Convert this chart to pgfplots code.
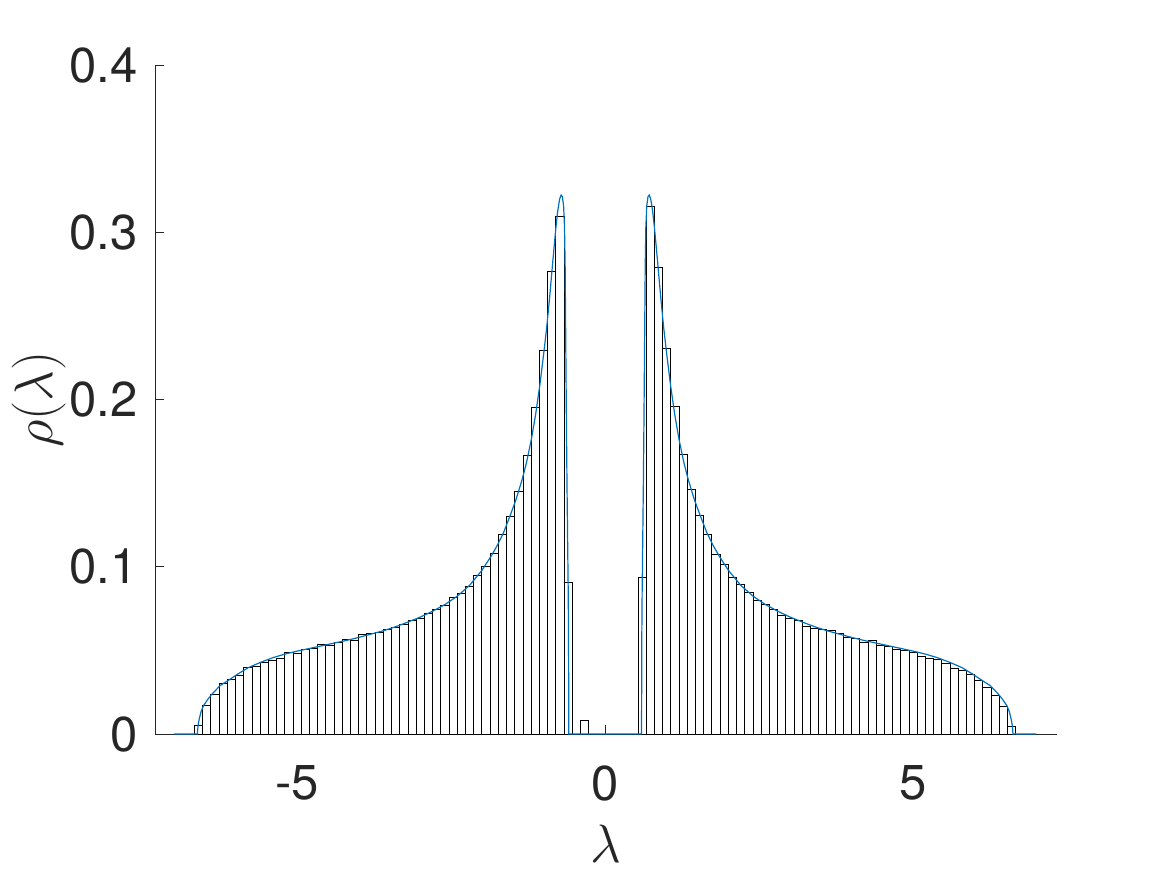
\RequirePackage{fix-cm}
\documentclass[border=0pt]{standalone}
\usepackage{fontspec}
\setmainfont{TeX Gyre Heros}
\usepackage{pgfplots}
\pgfplotsset{compat=1.18}
\definecolor{mblue}{rgb}{0,0.447,0.741}
\definecolor{axgray}{rgb}{0.15,0.15,0.15}
\begin{document}
\begin{tikzpicture}
\useasboundingbox (-77.75pt,-70.5pt) rectangle (505.75pt,367pt);
\begin{axis}[
  at={(0,0)}, anchor=south west,
  scale only axis, width=450.6pt, height=334.25pt,
  xmin=-7.3, xmax=7.33, ymin=0, ymax=0.4,
  axis lines*=left,
  axis line style={axgray, line width=0.5pt},
  tick align=inside, major tick length=4.5pt,
  tick style={axgray, line width=0.5pt},
  xtick={-5,0,5}, xticklabels={{-5},{0},{5}},
  ytick={0,0.1,0.2,0.3,0.4}, yticklabels={{0},{0.1},{0.2},{0.3},{0.4}},
  ticklabel style={font=\fontsize{24.5}{29}\selectfont, text=axgray, inner sep=0pt},
  xticklabel style={anchor=north, yshift=-15.5pt},
  yticklabel style={anchor=east, xshift=-8.75pt},
  xlabel={$\lambda$}, ylabel={$\rho(\lambda)$},
  xlabel style={at={(axis description cs:0.5,0)}, anchor=north, yshift=-45.5pt, inner sep=0pt, font=\fontsize{27}{32}\selectfont, text=axgray},
  ylabel style={at={(axis description cs:0,0.5)}, anchor=center, yshift=58.25pt, inner sep=0pt, font=\fontsize{27}{32}\selectfont, text=axgray},
  clip=false,
]
\addplot[ybar interval, draw=black, fill=white, line width=0.5pt] coordinates {
(-6.6667,0.0050) (-6.5333,0.0172) (-6.4,0.0238) (-6.2667,0.0300) (-6.1333,0.0324)
(-6.0,0.0348) (-5.8667,0.0396) (-5.7333,0.0406) (-5.6,0.0430) (-5.4667,0.0440)
(-5.3333,0.0452) (-5.2,0.0488) (-5.0667,0.0484) (-4.9333,0.0506) (-4.8,0.0512)
(-4.6667,0.0534) (-4.5333,0.0532) (-4.4,0.0550) (-4.2667,0.0564) (-4.1333,0.0562)
(-4.0,0.0594) (-3.8667,0.0599) (-3.7333,0.0610) (-3.6,0.0626) (-3.4667,0.0640)
(-3.3333,0.0658) (-3.2,0.0678) (-3.0667,0.0690) (-2.9333,0.0722) (-2.8,0.0744)
(-2.6667,0.0768) (-2.5333,0.0814) (-2.4,0.0840) (-2.2667,0.0882) (-2.1333,0.0950)
(-2.0,0.1002) (-1.8667,0.1081) (-1.7333,0.1192) (-1.6,0.1301) (-1.4667,0.1453)
(-1.3333,0.1667) (-1.2,0.1953) (-1.0667,0.2297) (-0.9333,0.2768) (-0.8,0.3098)
(-0.6667,0.0906) (-0.5333,0) (-0.4,0.0078) (-0.2667,0) (-0.1333,0)
(0,0) (0.1333,0) (0.2667,0) (0.4,0) (0.5333,0.0938)
(0.6667,0.3158) (0.8,0.2793) (0.9333,0.2309) (1.0667,0.1961) (1.2,0.1674)
(1.3333,0.1465) (1.4667,0.1310) (1.6,0.1194) (1.7333,0.1075) (1.8667,0.1013)
(2.0,0.0935) (2.1333,0.0894) (2.2667,0.0846) (2.4,0.0801) (2.5333,0.0774)
(2.6667,0.0745) (2.8,0.0711) (2.9333,0.0691) (3.0667,0.0678) (3.2,0.0645)
(3.3333,0.0633) (3.4667,0.0624) (3.6,0.0619) (3.7333,0.0603) (3.8667,0.0578)
(4.0,0.0572) (4.1333,0.0550) (4.2667,0.0558) (4.4,0.0530) (4.5333,0.0526)
(4.6667,0.0504) (4.8,0.0498) (4.9333,0.0488) (5.0667,0.0464) (5.2,0.0450)
(5.3333,0.0446) (5.4667,0.0422) (5.6,0.0390) (5.7333,0.0382) (5.8667,0.0354)
(6.0,0.0318) (6.1333,0.0280) (6.2667,0.0232) (6.4,0.0162) (6.5333,0.0042)
(6.6667,0)
};
\addplot[mblue, line width=0.6pt, sharp plot] coordinates {
(-7,0) (-6.62,0) (-6.61,0.005) (-6.59,0.009) (-6.56,0.0135) (-6.52,0.017) (-6.45,0.0208)
(-6.38,0.024) (-6.25,0.029) (-6.1,0.0325) (-5.98,0.0355) (-5.8,0.0396) (-5.6,0.0428)
(-5.4,0.0456) (-5.2,0.0478) (-5.0,0.0496) (-4.8,0.0512) (-4.6,0.0528) (-4.4,0.0544)
(-4.2,0.056) (-4.0,0.0578) (-3.8,0.0598) (-3.6,0.0618) (-3.4,0.0642) (-3.2,0.067)
(-3.0,0.07) (-2.8,0.0735) (-2.6,0.0775) (-2.4,0.0825) (-2.2,0.089) (-2.0,0.098)
(-1.85,0.1065) (-1.75,0.113) (-1.65,0.1205) (-1.55,0.13) (-1.45,0.14) (-1.35,0.152)
(-1.28,0.162) (-1.2,0.176) (-1.13,0.191) (-1.06,0.209) (-1.0,0.227) (-0.95,0.243)
(-0.9,0.262) (-0.85,0.283) (-0.8,0.303) (-0.77,0.313) (-0.74,0.32) (-0.715,0.3225)
(-0.695,0.3215) (-0.675,0.316) (-0.66,0.303) (-0.65,0.28) (-0.64,0.235) (-0.63,0.19)
(-0.62,0.15) (-0.61,0.117) (-0.6,0.085) (-0.595,0.06) (-0.59,0)
(0.59,0) (0.595,0.06) (0.6,0.085) (0.61,0.117) (0.62,0.15) (0.63,0.19) (0.64,0.235)
(0.65,0.28) (0.66,0.303) (0.675,0.316) (0.695,0.3215) (0.715,0.3225) (0.74,0.32)
(0.77,0.313) (0.8,0.303) (0.85,0.283) (0.9,0.262) (0.95,0.243) (1.0,0.227) (1.06,0.209)
(1.13,0.191) (1.2,0.176) (1.28,0.162) (1.35,0.152) (1.45,0.14) (1.55,0.13) (1.65,0.1205)
(1.75,0.113) (1.85,0.1065) (2.0,0.098) (2.2,0.089) (2.4,0.0825) (2.6,0.0775) (2.8,0.0735)
(3.0,0.07) (3.2,0.067) (3.4,0.0642) (3.6,0.0618) (3.8,0.0598) (4.0,0.0578) (4.2,0.056)
(4.4,0.0544) (4.6,0.0528) (4.8,0.0512) (5.0,0.0496) (5.2,0.0478) (5.4,0.0456) (5.6,0.0428)
(5.8,0.0396) (5.98,0.0355) (6.1,0.0325) (6.25,0.029) (6.38,0.024) (6.45,0.0208) (6.52,0.017)
(6.56,0.0135) (6.59,0.009) (6.61,0.005) (6.62,0) (7,0)
};
\end{axis}
\end{tikzpicture}
\end{document}
